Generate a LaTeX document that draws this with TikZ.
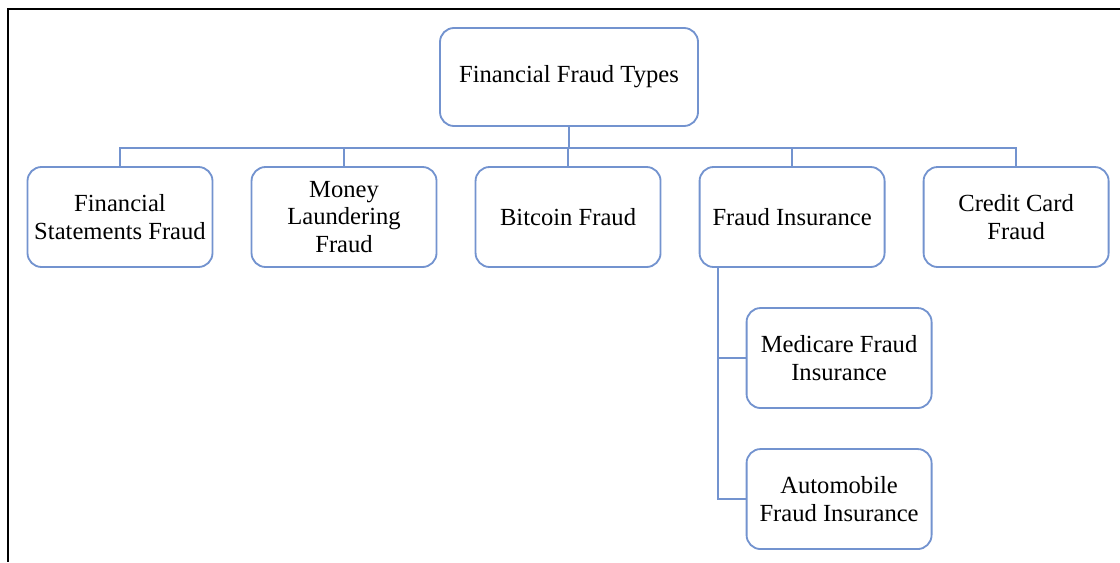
\documentclass[tikz,border=0pt]{standalone}
\usepackage{fontspec}
\setmainfont{Liberation Serif}
\usepackage{tikz}
\usetikzlibrary{positioning}
\usepackage{xcolor}
\definecolor{myblue}{HTML}{7393CF}
\tikzset{node distance=0.98cm, every text node part/.style={align=center, font={\fontsize{17.5}{19.5}\selectfont}}}
\tikzstyle{block} = [draw=myblue, fill=white, line width=1.3pt, rounded corners=0.35cm, minimum width=4.625cm, minimum height=2.5cm, inner sep=0pt]
\tikzstyle{ln} = [draw=myblue, line width=1.3pt]

\begin{document}
\begin{tikzpicture}
  \useasboundingbox (0,0) rectangle (28,-14.05);
  \draw[line width=1.5pt] (28,-0.225) -- (0.2,-0.225) -- (0.2,-14.05);
  \node[block, minimum width=6.45cm, minimum height=2.45cm] (root) at (14.225,-1.925) {Financial Fraud Types};
  \node[block] (fsf) at (3,-5.425) {Financial\\Statements Fraud};
  \node[block, right=0.93cm of fsf] (mlf) {Money\\Laundering\\Fraud};
  \node[block, right=0.93cm of mlf] (btc) {Bitcoin Fraud};
  \node[block, right=0.93cm of btc] (fi) {Fraud Insurance};
  \node[block, right=0.93cm of fi] (ccf) {Credit Card\\Fraud};
  \node[block, below=of fi, xshift=1.175cm] (medicare) {Medicare Fraud\\Insurance};
  \node[block, below=of medicare] (auto) {Automobile\\Fraud Insurance};
  \draw[ln] (root.south) -- ([yshift=-0.525cm]root.south) -| (fsf.north);
  \draw[ln] (root.south) -- ([yshift=-0.525cm]root.south) -| (mlf.north);
  \draw[ln] (root.south) -- ([yshift=-0.525cm]root.south) -| (btc.north);
  \draw[ln] (root.south) -- ([yshift=-0.525cm]root.south) -| (fi.north);
  \draw[ln] (root.south) -- ([yshift=-0.525cm]root.south) -| (ccf.north);
  \draw[ln] ([xshift=0.475cm]fi.south west) |- (medicare.west);
  \draw[ln] ([xshift=0.475cm]fi.south west) |- (auto.west);
\end{tikzpicture}
\end{document}
